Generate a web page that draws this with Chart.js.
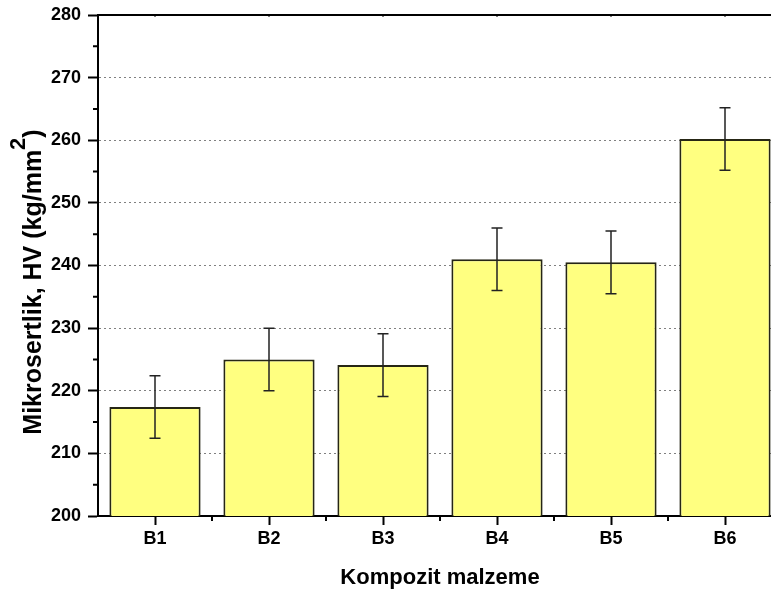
<!DOCTYPE html>
<html>
<head>
<meta charset="utf-8">
<script src="https://cdn.jsdelivr.net/npm/chart.js@4"></script>
<style>
  html, body { margin: 0; padding: 0; background: #fff; overflow: hidden; }
  #wrap { width: 790px; height: 597px; }
</style>
</head>
<body>
<div id="wrap"><canvas id="c" width="790" height="597"></canvas></div>
<script>
const categories = ['B1', 'B2', 'B3', 'B4', 'B5', 'B6'];
const hardness = [217.4, 225.0, 224.1, 241.0, 240.5, 260.2];
const hardnessErr = [5.0, 5.0, 5.0, 5.0, 5.0, 5.0];
const yTickValues = [200, 210, 220, 230, 240, 250, 260, 270, 280];
const yMinorTicks = [205, 215, 225, 235, 245, 255, 265, 275];
const xTitle = 'Kompozit malzeme';
const yTitleMain = 'Mikrosertlik, HV (kg/mm';
const yTitleSup = '2';
const yTitleEnd = ')';

const FONT = '"Liberation Sans", Arial, Helvetica, sans-serif';

const extrasPlugin = {
  id: 'extras',
  afterDatasetsDraw(chart) {
    const ctx = chart.ctx;
    const ys = chart.scales.y;
    const meta = chart.getDatasetMeta(0);
    ctx.save();
    ctx.strokeStyle = '#222';
    ctx.lineWidth = 1.5;
    meta.data.forEach((bar, i) => {
      const x = bar.x;
      const yTop = ys.getPixelForValue(hardness[i] + hardnessErr[i]);
      const yBot = ys.getPixelForValue(hardness[i] - hardnessErr[i]);
      ctx.beginPath();
      ctx.moveTo(x, yTop); ctx.lineTo(x, yBot);
      ctx.moveTo(x - 5.5, yTop); ctx.lineTo(x + 5.5, yTop);
      ctx.moveTo(x - 5.5, yBot); ctx.lineTo(x + 5.5, yBot);
      ctx.stroke();
    });
    ctx.restore();
  },
  afterDraw(chart) {
    const ctx = chart.ctx;
    const xs = chart.scales.x, ys = chart.scales.y;
    const area = chart.chartArea;
    ctx.save();
    ctx.strokeStyle = '#000';
    ctx.lineWidth = 2;
    // top frame line
    ctx.beginPath();
    ctx.moveTo(area.left - 1, area.top);
    ctx.lineTo(chart.width, area.top);
    ctx.stroke();
    // y minor ticks
    ctx.beginPath();
    yMinorTicks.forEach(v => {
      const y = ys.getPixelForValue(v);
      ctx.moveTo(area.left, y); ctx.lineTo(area.left - 5, y);
    });
    // x minor ticks at category boundaries
    for (let i = 0; i < categories.length - 1; i++) {
      const x = (xs.getPixelForValue(i) + xs.getPixelForValue(i + 1)) / 2;
      ctx.moveTo(x, area.bottom); ctx.lineTo(x, area.bottom + 5);
    }
    ctx.stroke();
    // small ticks on the top frame
    ctx.lineWidth = 1;
    ctx.beginPath();
    for (let i = 0; i < categories.length; i++) {
      const xc = xs.getPixelForValue(i);
      ctx.moveTo(xc, area.top); ctx.lineTo(xc, area.top + 2);
    }
    ctx.stroke();
    // y axis title with superscript
    ctx.fillStyle = '#000';
    ctx.textBaseline = 'alphabetic';
    ctx.textAlign = 'left';
    const mainFont = 'bold 25px ' + FONT;
    const supFont = 'bold 22px ' + FONT;
    ctx.font = mainFont;
    const wMain = ctx.measureText(yTitleMain).width;
    const wEnd = ctx.measureText(yTitleEnd).width;
    ctx.font = supFont;
    const wSup = ctx.measureText(yTitleSup).width;
    const total = wMain + wSup + wEnd;
    ctx.translate(41, 282);
    ctx.rotate(-Math.PI / 2);
    let x0 = -total / 2;
    ctx.font = mainFont;
    ctx.fillText(yTitleMain, x0, 0);
    ctx.font = supFont;
    ctx.fillText(yTitleSup, x0 + wMain, -16);
    ctx.font = mainFont;
    ctx.fillText(yTitleEnd, x0 + wMain + wSup, 0);
    ctx.restore();
  }
};

new Chart(document.getElementById('c'), {
  type: 'bar',
  data: {
    labels: categories,
    datasets: [{
      data: hardness,
      backgroundColor: '#FFFF80',
      borderColor: '#262615',
      borderWidth: 2,
      barPercentage: 0.8,
      categoryPercentage: 1.0
    }]
  },
  options: {
    responsive: false,
    animation: false,
    devicePixelRatio: 1,
    layout: { padding: { top: 15, right: 8, left: 0, bottom: 0 } },
    plugins: { legend: { display: false }, tooltip: { enabled: false } },
    scales: {
      x: {
        type: 'category',
        afterFit(scale) { scale.height = 81; scale.paddingLeft = 0; scale.paddingRight = 0; },
        grid: {
          offset: false,
          drawOnChartArea: false,
          drawTicks: true,
          tickLength: 9,
          tickWidth: 2,
          tickColor: '#000'
        },
        border: { display: true, color: '#000', width: 2 },
        ticks: {
          color: '#000',
          padding: 3,
          maxRotation: 0,
          font: { family: FONT, size: 18, weight: 'bold' }
        },
        title: {
          display: true,
          text: xTitle,
          color: '#000',
          padding: { top: 0, bottom: 6 },
          font: { family: FONT, size: 22, weight: 'bold' }
        }
      },
      y: {
        min: 200,
        max: 280,
        afterFit(scale) { scale.width = 98; scale.paddingTop = 0; scale.paddingBottom = 0; },
        afterBuildTicks(scale) { scale.ticks = yTickValues.map(v => ({ value: v })); },
        grid: {
          drawOnChartArea: true,
          color: ctx => (ctx.tick && (ctx.tick.value === 200 || ctx.tick.value === 280)) ? 'rgba(0,0,0,0)' : '#808080',
          lineWidth: 1,
          tickLength: 10,
          tickWidth: 2,
          tickColor: '#000',
          tickBorderDash: []
        },
        border: { display: true, color: '#000', width: 2, dash: [2, 3] },
        ticks: {
          color: '#000',
          padding: 7,
          font: { family: FONT, size: 18, weight: 'bold' }
        }
      }
    }
  },
  plugins: [extrasPlugin]
});
</script>
</body>
</html>
